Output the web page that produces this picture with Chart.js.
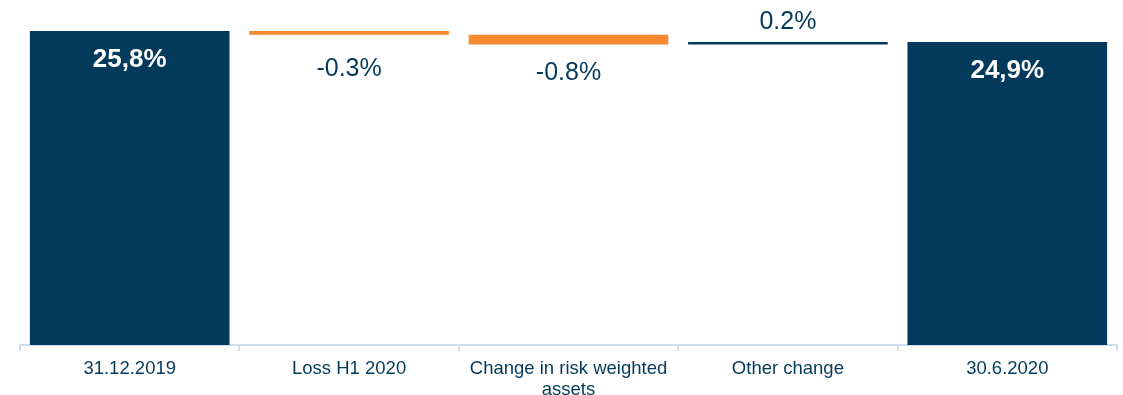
<!DOCTYPE html>
<html>
<head>
<meta charset="utf-8">
<script src="https://cdn.jsdelivr.net/npm/chart.js@4"></script>
<style>
  html, body { margin: 0; padding: 0; background: #fff; overflow: hidden; }
</style>
</head>
<body>
<canvas id="myChart" width="1123" height="395"></canvas>
<script>
// waterfall data
var categories = ["31.12.2019", "Loss H1 2020", ["Change in risk weighted", "assets"], "Other change", "30.6.2020"];
var steps = [25.8, -0.3, -0.8, 0.2, 24.9];
var isTotal = [true, false, false, false, true];
var valueLabels = ["25,8%", "-0.3%", "-0.8%", "0.2%", "24,9%"];

var navy = "#033a5b";
var orange = "#f68a31";

// build floating ranges from the steps
var ranges = [];
var colors = [];
var running = 0;
steps.forEach(function (s, i) {
  if (isTotal[i]) {
    ranges.push([0, s]);
    running = s;
    colors.push(navy);
  } else {
    ranges.push([running, running + s]);
    running = running + s;
    colors.push(s < 0 ? orange : navy);
  }
});

var labelPlugin = {
  id: "wfLabels",
  afterDatasetsDraw: function (chart) {
    var ctx = chart.ctx;
    var meta = chart.getDatasetMeta(0);
    var y = chart.scales.y;
    ctx.save();
    ctx.textAlign = "center";
    ctx.textBaseline = "middle";
    meta.data.forEach(function (bar, i) {
      var r = ranges[i];
      var top = y.getPixelForValue(Math.max(r[0], r[1]));
      if (isTotal[i]) {
        ctx.fillStyle = "#ffffff";
        ctx.font = "bold 26px 'Liberation Sans', Arial, sans-serif";
        ctx.fillText(valueLabels[i], bar.x, top + 29);
      } else if (steps[i] < 0) {
        ctx.fillStyle = navy;
        ctx.font = "25px 'Liberation Sans', Arial, sans-serif";
        ctx.fillText(valueLabels[i], bar.x, top + 38);
      } else {
        ctx.fillStyle = navy;
        ctx.font = "25px 'Liberation Sans', Arial, sans-serif";
        ctx.fillText(valueLabels[i], bar.x, top - 20);
      }
    });
    ctx.restore();
  }
};

var ctx = document.getElementById("myChart").getContext("2d");
var chart = new Chart(ctx, {
  type: "bar",
  data: {
    labels: categories,
    datasets: [
      {
        data: ranges,
        backgroundColor: colors,
        borderWidth: 0,
        borderSkipped: false,
        categoryPercentage: 0.91,
        barPercentage: 1
      }
    ]
  },
  options: {
    responsive: false,
    animation: false,
    devicePixelRatio: 1,
    layout: { padding: { left: 20, right: 6, top: 0, bottom: 0 } },
    plugins: {
      legend: { display: false },
      tooltip: { enabled: false }
    },
    scales: {
      y: {
        display: false,
        min: 0,
        max: 28.35
      },
      x: {
        afterFit: function (scale) {
          scale.height = 50;
        },
        grid: {
          display: true,
          drawOnChartArea: false,
          drawTicks: true,
          tickLength: 6,
          color: "#cfdeeb",
          lineWidth: 2
        },
        border: { display: true, color: "#cfdeeb", width: 2 },
        ticks: {
          color: navy,
          padding: 8,
          maxRotation: 0,
          autoSkip: false,
          font: { family: "'Liberation Sans', Arial, sans-serif", size: 18.5, lineHeight: 1.12 }
        }
      }
    }
  },
  plugins: [labelPlugin]
});
</script>
</body>
</html>
